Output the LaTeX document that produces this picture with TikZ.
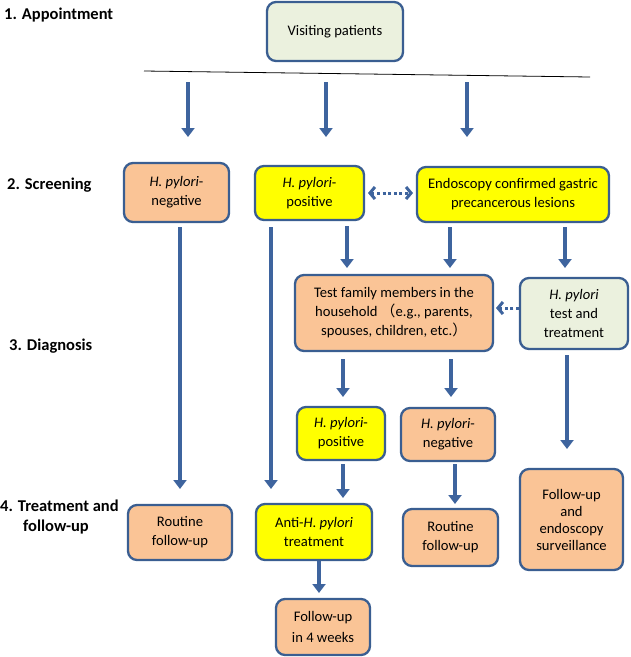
\documentclass[tikz,border=0pt]{standalone}
\usepackage{fontspec}
\setmainfont{Carlito}
\newfontfamily\cjk{Noto Sans CJK SC}
\usetikzlibrary{arrows.meta}
\definecolor{bord}{RGB}{58,94,145}
\definecolor{arrc}{RGB}{62,100,158}
\definecolor{peach}{RGB}{250,196,150}
\definecolor{lgreen}{RGB}{235,241,222}
\definecolor{yel}{RGB}{255,255,0}
\tikzset{
  box/.style={draw=bord, line width=2.3pt, rounded corners=9pt, align=center,
    inner sep=0pt, outer sep=0pt, font=\fontsize{14.6}{19}\selectfont},
  pbox/.style={box, fill=peach},
  ybox/.style={box, fill=yel},
  gbox/.style={box, fill=lgreen},
  stage/.style={anchor=west, inner sep=0pt, align=left, font=\fontsize{16.5}{21}\selectfont\bfseries},
  arr/.style={draw=arrc, line width=4.5pt, -{Triangle[width=13pt,length=9pt]}},
  darr/.style={draw=arrc, line width=3pt, dash pattern=on 3pt off 2.6pt},
  barb/.tip={Straight Barb[length=5pt,width=12pt,line width=3pt]},
}
\begin{document}
\begin{tikzpicture}[x=1pt,y=-1pt]
\useasboundingbox (0,0) rectangle (631,657);

% stage labels
\node[stage] (st1) at (4,15) {1. Appointment};
\node[stage] (st2) at (7,185) {2. Screening};
\node[stage] (st3) at (9,346) {3. Diagnosis};
\node[stage] (st4) at (0,506) {4. Treatment and};
\node[stage] (st4b) at (23,527) {follow-up};

% boxes
\node[gbox, minimum width=136pt, minimum height=59pt] (vis) at (335,31.5) {Visiting patients};
\node[pbox, minimum width=105pt, minimum height=59pt] (neg1) at (176.5,192.5) {\textit{H. pylori}-\\negative};
\node[ybox, minimum width=109pt, minimum height=54pt] (pos1) at (309.5,193) {\textit{H. pylori}-\\positive};
\node[ybox, minimum width=192pt, minimum height=55pt] (endo) at (513,194.5) {Endoscopy confirmed gastric\\precancerous lesions};
\node[pbox, minimum width=198pt, minimum height=76pt] (fam) at (394,313) {Test family members in the\\household {\cjk （}e.g., parents,\\spouses, children, etc.{\cjk ）}};
\node[gbox, minimum width=108pt, minimum height=71pt] (hpt) at (574,313.5) {\textit{H. pylori}\\test and\\treatment};
\node[ybox, minimum width=88pt, minimum height=53pt] (pos2) at (341,433.5) {\textit{H. pylori}-\\positive};
\node[pbox, minimum width=94pt, minimum height=53pt] (neg2) at (448,434.5) {\textit{H. pylori}-\\negative};
\node[pbox, minimum width=104pt, minimum height=55pt] (rout1) at (180,532.5) {Routine\\follow-up};
\node[ybox, minimum width=116pt, minimum height=56pt] (anti) at (314,532) {Anti-\textit{H. pylori}\\treatment};
\node[pbox, minimum width=95pt, minimum height=57pt] (rout2) at (450.5,537.5) {Routine\\follow-up};
\node[pbox, minimum width=103pt, minimum height=101pt, font=\fontsize{14.6}{17}\selectfont] (fue) at (571.5,519.5) {Follow-up\\and\\endoscopy\\surveillance};
\node[pbox, minimum width=94pt, minimum height=56pt, font=\fontsize{14.6}{21}\selectfont] (fu4) at (323,627) {Follow-up\\in 4 weeks};

% horizontal line under appointment
\coordinate (L1) at (144,71);
\coordinate (L2) at (590,77);
\draw[black, line width=0.8pt] (L1) -- (L2);

% arrows from the line
\coordinate (s1) at (188,82); \coordinate (e1) at (188,137);
\coordinate (s2) at (326,82); \coordinate (e2) at (326,137);
\coordinate (s3) at (467,82); \coordinate (e3) at (467,137);
\draw[arr] (s1) -- (e1);
\draw[arr] (s2) -- (e2);
\draw[arr] (s3) -- (e3);

% x positions
\coordinate (x180) at (180,0);
\coordinate (x271) at (271,0);
\coordinate (x347) at (347,0);
\coordinate (x450) at (450,0);
\coordinate (x565) at (565,0);
\coordinate (x343) at (343,0);
\coordinate (x451) at (451,0);
\coordinate (x567) at (567,0);
\coordinate (x455) at (455,0);
\coordinate (x319) at (319,0);
\coordinate (y193) at (0,193);
\coordinate (y308) at (0,308);

\draw[arr, shorten <=5pt, shorten >=16pt] (neg1.south -| x180) -- (rout1.north -| x180);
\draw[arr, shorten <=7pt, shorten >=15pt] (pos1.south -| x271) -- (anti.north -| x271);
\draw[arr, shorten <=6pt, shorten >=7pt] (pos1.south -| x347) -- (fam.north -| x347);
\draw[arr, shorten <=5pt, shorten >=7pt] (endo.south -| x450) -- (fam.north -| x450);
\draw[arr, shorten <=5pt, shorten >=10pt] (endo.south -| x565) -- (hpt.north -| x565);
\draw[arr, shorten <=8pt, shorten >=10pt] (fam.south -| x343) -- (pos2.north -| x343);
\draw[arr, shorten <=8pt, shorten >=11pt] (fam.south -| x451) -- (neg2.north -| x451);
\draw[arr, shorten <=6pt, shorten >=20pt] (hpt.south -| x567) -- (fue.north -| x567);
\draw[arr, shorten <=4pt, shorten >=6pt] (pos2.south -| x343) -- (anti.north -| x343);
\draw[arr, shorten <=3pt, shorten >=5pt] (neg2.south -| x455) -- (rout2.north -| x455);
\draw[arr, shorten <=1pt, shorten >=6pt] (anti.south -| x319) -- (fu4.north -| x319);

% dotted arrows
\draw[darr, barb-barb, shorten <=4pt, shorten >=4pt]
  (pos1.east |- y193) -- (endo.west |- y193);
\draw[darr, -barb, shorten <=1pt, shorten >=3pt]
  (hpt.west |- y308) -- (fam.east |- y308);
\end{tikzpicture}
\end{document}
